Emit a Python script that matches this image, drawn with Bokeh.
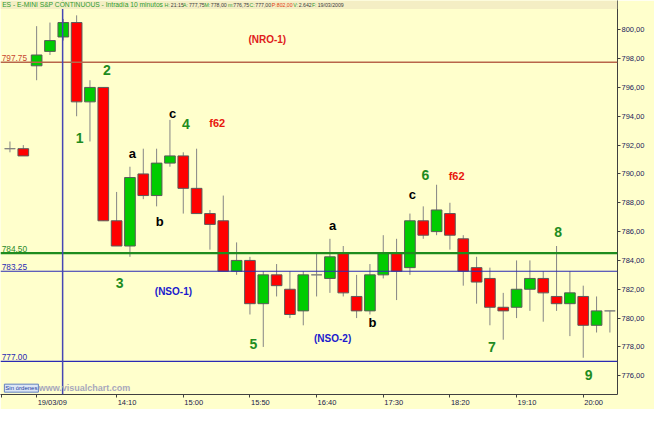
from bokeh.plotting import figure
from bokeh.models import Range1d, FixedTicker, Span, Label, BoxAnnotation, ColumnDataSource
from bokeh.embed import file_html
from bokeh.resources import INLINE
from bokeh.core.properties import value

# ---------------- data ----------------
bar_index = list(range(46))
opens = [791.75, 791.75, 797.5, 798.5, 799.5, 800.5, 795.0, 796.0, 786.75, 785.0,
         790.0, 788.5, 790.75, 791.25, 789.0, 787.25, 786.75, 783.25, 784.0, 781.0,
         783.0, 782.0, 780.5, 783.0, 782.75, 784.5, 781.5, 780.5, 783.0, 784.5,
         783.5, 786.75, 786.0, 787.25, 785.5, 783.5, 782.75, 780.75, 780.75, 782.0,
         782.75, 781.5, 781.0, 781.5, 779.5, 780.5]
highs = [792.25, 792.0, 800.25, 800.5, 800.75, 801.0, 796.5, 796.0, 788.75, 790.5,
         791.75, 791.75, 793.75, 791.5, 791.75, 787.5, 788.5, 785.25, 784.25, 783.25,
         783.75, 783.25, 783.25, 784.5, 785.5, 785.0, 783.0, 783.75, 785.75, 785.5,
         787.25, 787.75, 789.25, 788.0, 785.75, 784.25, 783.5, 781.75, 784.0, 784.0,
         783.25, 785.0, 783.25, 782.25, 781.5, 780.5]
lows = [791.5, 791.25, 796.5, 798.25, 799.25, 794.0, 792.25, 786.75, 785.0, 784.25,
        788.25, 787.75, 790.5, 787.25, 787.25, 784.75, 783.25, 783.0, 780.25, 778.0,
        781.5, 780.0, 779.5, 781.5, 781.75, 781.5, 780.0, 780.25, 782.75, 781.25,
        783.0, 785.5, 785.75, 784.75, 782.25, 781.0, 779.5, 778.5, 780.0, 780.5,
        779.75, 780.5, 778.75, 777.25, 779.0, 779.0]
closes = [791.75, 791.25, 798.25, 799.25, 800.5, 795.0, 796.0, 786.75, 785.0, 789.75,
          788.5, 790.75, 791.25, 789.0, 787.25, 786.5, 783.25, 784.0, 781.0, 783.0,
          782.25, 780.25, 783.0, 783.0, 784.25, 781.75, 780.5, 783.0, 784.5, 783.25,
          786.75, 785.75, 787.5, 785.75, 783.25, 782.5, 780.75, 780.5, 782.0, 782.75,
          781.75, 781.0, 781.75, 779.5, 780.5, 780.5]

x_tick_positions = [-0.65, 2, 8, 13, 18, 23, 28, 33, 38, 43]
x_tick_labels = ["", "19/03/09", "14:10", "15:00", "15:50", "16:40", "17:30", "18:20", "19:10", "20:00"]
y_tick_values = [776, 778, 780, 782, 784, 786, 788, 790, 792, 794, 796, 798, 800]
y_tick_labels = ["776,00", "778,00", "780,00", "782,00", "784,00", "786,00", "788,00",
                 "790,00", "792,00", "794,00", "796,00", "798,00", "800,00"]

level_prices = [797.75, 784.50, 783.25, 777.00]
level_texts = ["797.75", "784.50", "783.25", "777.00"]
session_start = 3.95

ann_text = ["(NRO-1)", "2", "1", "c", "4", "f62", "a", "b", "3", "(NSO-1)",
            "5", "(NSO-2)", "b", "a", "c", "6", "f62", "8", "7", "9"]
ann_x = [19.3, 7.27, 5.22, 12.2, 13.2, 15.55, 9.18, 11.23, 8.23, 12.26,
         18.26, 24.2, 27.2, 24.2, 30.18, 31.16, 33.5, 41.12, 36.14, 43.4]
ann_y = [799.32, 797.2, 792.5, 794.16, 793.43, 793.56, 791.44, 786.68, 782.44, 781.85,
         778.21, 778.6, 779.68, 786.41, 788.6, 789.92, 789.85, 785.95, 778.0, 776.02]
ann_kind = ["nro", "wave", "wave", "abc", "wave", "fib", "abc", "abc", "wave", "nso",
            "wave", "nso", "abc", "abc", "abc", "wave", "fib", "wave", "wave", "wave"]

header_texts = ["ES - E-MINI S&P CONTINUOUS - Intradía 10 minutos",
                "H:", "21:15", "A:", "777,75", "M:", "778,00", "m:", "776,75",
                "C:", "777,00", "P:", "802,00", "V:", "2.642", "F:", "19/03/2009"]
header_kinds = ["title", "key", "val", "key", "val", "key", "val", "key", "val",
                "key", "val", "hot", "hot", "key", "val", "key", "val"]

# ---------------- styles / layout ----------------
W, H = 654, 409
SX, SY = W / 670.0, H / 425.0          # reference-pixel -> figure-pixel scale
BG = "#FFFFCC"
UP = "#00CC00"
DOWN = "#FF0000"
FONT = "Liberation Sans"
kind_style = {
    "wave": ("#1E8C1E", "14px"),
    "abc": ("#000000", "13px"),
    "fib": ("#E8180C", "11px"),
    "nro": ("#E0201A", "10px"),
    "nso": ("#1A1ACC", "10px"),
}
header_color = {"title": "#2E9A2E", "key": "#2E9A2E", "val": "#3C3C3C", "hot": "#E04010"}
header_size = {"title": "6.7px", "key": "5.2px", "val": "5.2px", "hot": "5.2px"}
header_px = [1.7, 168, 174.5, 187, 193, 209, 215.5, 233, 238.5, 255, 261, 278, 283, 300, 305.5, 319, 325]
level_colors = ["#B8664A", "#1E8C1E", "#2A2AB4", "#2A2AB4"]
level_text_colors = ["#C8462E", "#2A8A2A", "#2A2AB4", "#2A2AB4"]
level_widths = [1.5, 2.2, 1.2, 1.2]

p = figure(width=W, height=H, output_backend="svg", toolbar_location=None,
           x_range=Range1d(-0.71, 45.57), y_range=Range1d(774.70, 802.03),
           y_axis_location="right", min_border=0)
p.min_border_right = 37
p.background_fill_color = BG
p.border_fill_color = BG
p.outline_line_color = None
p.grid.visible = False

# candles
src = ColumnDataSource(dict(
    x=bar_index, high=highs, low=lows,
    top=[max(o, c) for o, c in zip(opens, closes)],
    bottom=[min(o, c) for o, c in zip(opens, closes)],
    color=[UP if (c > o) else (DOWN if c < o else "#808080") for o, c in zip(opens, closes)],
    edge=["#5A5A5A" if c != o else "#808080" for o, c in zip(opens, closes)],
))
p.segment(x0="x", y0="low", x1="x", y1="high", source=src, line_color="#858585", line_width=1)
p.vbar(x="x", width=0.8, top="top", bottom="bottom", source=src,
       fill_color="color", line_color="edge", line_width=1)

# level lines
for lp, lc, lw, lt, ltc in zip(level_prices, level_colors, level_widths, level_texts, level_text_colors):
    p.add_layout(Span(location=lp, dimension="width", line_color=lc, line_width=lw))
    p.add_layout(Label(x=-0.62, y=lp, text=lt, text_color=ltc, text_font=FONT,
                       text_font_size="8.3px", text_baseline="bottom", text_align="left",
                       y_offset=1.5))
p.add_layout(Span(location=session_start, dimension="height", line_color="#4646B4", line_width=1.5))

# header band (drawn over the session line)
p.add_layout(BoxAnnotation(bottom=801.44, fill_color="#F4EEC4", fill_alpha=1.0,
                           line_color=None, level="overlay"))
for txt, kind, hx in zip(header_texts, header_kinds, header_px):
    p.add_layout(Label(x=hx * SX, x_units="screen", y=801.72, text=txt,
                       text_color=header_color[kind], text_font=FONT,
                       text_font_size=header_size[kind], text_baseline="middle",
                       text_align="left", level="overlay"))

# annotations
ann_src = ColumnDataSource(dict(
    x=ann_x, y=ann_y, text=ann_text,
    color=[kind_style[k][0] for k in ann_kind],
    size=[kind_style[k][1] for k in ann_kind],
))
p.text(x="x", y="y", text="text", source=ann_src, text_color="color", text_font_size="size",
       text_font=value(FONT), text_font_style="bold", text_align="center", text_baseline="middle")

# bottom-left widgets
p.add_layout(Label(x=-0.42, y=775.14, text="Sin órdenes", text_font=FONT,
                   text_font_size="6px", text_color="#2040A0", text_baseline="middle",
                   text_align="left", background_fill_color="#DCE6F5",
                   border_line_color="#6080C0", padding=1))
p.add_layout(Label(x=2.15, y=775.18, text="www.visualchart.com", text_font=FONT,
                   text_font_size="9px", text_font_style="bold", text_color="#A8A8BC",
                   text_baseline="middle", text_align="left"))

# axes
ya = p.yaxis[0]
ya.ticker = FixedTicker(ticks=y_tick_values)
ya.major_label_overrides = {v: s for v, s in zip(y_tick_values, y_tick_labels)}
ya.major_label_text_font = FONT
ya.major_label_text_font_size = "7.5px"
ya.major_label_text_color = "#1A1A5A"
ya.major_tick_out = 3
ya.major_tick_in = 0
ya.minor_tick_out = 0
ya.minor_tick_in = 0
ya.major_label_standoff = 1
ya.axis_line_color = "#404040"
ya.major_tick_line_color = "#404040"

# x labels start at their tick (left aligned): pad with no-break spaces
XFS = 7.5
char_em = {":": 0.278, "/": 0.278}
def left_aligned(label):
    if not label:
        return label
    w = sum(char_em.get(ch, 0.556) for ch in label) * XFS
    n = int(round((w + 2.0) / (0.278 * XFS)))
    return "\u00a0" * n + label

xa = p.xaxis[0]
xa.ticker = FixedTicker(ticks=x_tick_positions)
xa.major_label_overrides = {v: left_aligned(s) for v, s in zip(x_tick_positions, x_tick_labels)}
xa.major_label_text_font = FONT
xa.major_label_text_font_size = f"{XFS}px"
xa.major_label_text_color = "#1A1A4A"
xa.major_tick_out = 3
xa.major_tick_in = 0
xa.minor_tick_out = 0
xa.minor_tick_in = 0
xa.major_label_standoff = 0
xa.axis_line_color = "#404040"
xa.major_tick_line_color = "#404040"

open("out.html", "w").write(file_html(p, INLINE))
